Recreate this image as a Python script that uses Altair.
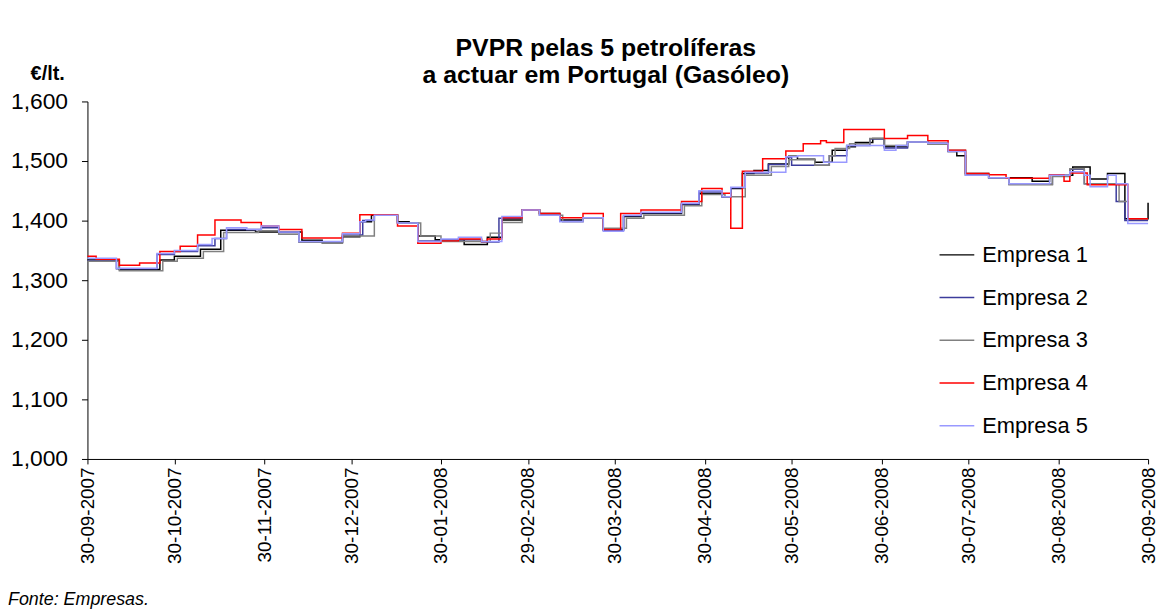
import altair as alt
import pandas as pd

START = "2007-09-30"

SERIES = ["Empresa 1", "Empresa 2", "Empresa 3", "Empresa 4", "Empresa 5"]
COLORS = ["#000000", "#3C3C9C", "#808080", "#FF0000", "#9999FF"]

# day offsets (from 30-09-2007) at which each company changed its price, and the new price (EUR/lt)
E1_DAYS = [0, 11, 25, 30, 39, 46, 58, 74, 81, 88, 94, 98, 107, 111, 114, 120, 130, 138, 143, 150, 156, 163, 171, 178, 185, 191, 205, 211, 219, 222, 226, 230, 235, 242, 245, 251, 257, 262, 265, 271, 275, 283, 290, 297, 300, 303, 311, 326, 332, 340, 346, 352, 358, 366]
E1_VALS = [1.334, 1.318, 1.334, 1.340, 1.352, 1.384, 1.381, 1.367, 1.363, 1.373, 1.398, 1.409, 1.398, 1.396, 1.374, 1.368, 1.360, 1.372, 1.401, 1.418, 1.412, 1.401, 1.405, 1.385, 1.407, 1.412, 1.427, 1.445, 1.440, 1.454, 1.479, 1.484, 1.495, 1.508, 1.503, 1.498, 1.518, 1.524, 1.531, 1.538, 1.524, 1.532, 1.529, 1.516, 1.509, 1.479, 1.472, 1.466, 1.476, 1.490, 1.470, 1.479, 1.403, 1.430]

E2_DAYS = [0, 10, 24, 30, 38, 44, 48, 60, 66, 73, 88, 95, 99, 107, 114, 122, 136, 142, 150, 156, 163, 171, 178, 185, 191, 205, 211, 219, 222, 227, 235, 241, 243, 256, 262, 270, 275, 283, 290, 297, 303, 311, 318, 333, 339, 344, 355, 358, 366]
E2_VALS = [1.333, 1.319, 1.343, 1.348, 1.358, 1.370, 1.385, 1.388, 1.380, 1.364, 1.376, 1.400, 1.409, 1.396, 1.366, 1.368, 1.364, 1.404, 1.418, 1.410, 1.399, 1.405, 1.384, 1.408, 1.413, 1.428, 1.448, 1.440, 1.455, 1.480, 1.494, 1.506, 1.493, 1.509, 1.526, 1.537, 1.522, 1.532, 1.530, 1.517, 1.477, 1.472, 1.461, 1.475, 1.486, 1.462, 1.432, 1.400, 1.400]

E3_DAYS = [0, 11, 26, 31, 40, 47, 59, 66, 73, 88, 99, 107, 115, 122, 139, 143, 150, 156, 164, 171, 178, 186, 192, 206, 212, 220, 227, 236, 242, 251, 256, 258, 263, 270, 275, 283, 290, 297, 303, 311, 318, 333, 339, 344, 356, 359, 366]
E3_VALS = [1.332, 1.316, 1.332, 1.337, 1.348, 1.380, 1.383, 1.377, 1.364, 1.374, 1.409, 1.396, 1.374, 1.365, 1.379, 1.397, 1.418, 1.409, 1.398, 1.404, 1.387, 1.404, 1.409, 1.425, 1.444, 1.440, 1.476, 1.491, 1.502, 1.493, 1.509, 1.521, 1.529, 1.538, 1.526, 1.532, 1.530, 1.518, 1.476, 1.472, 1.460, 1.474, 1.487, 1.462, 1.432, 1.403, 1.403]

E4_DAYS = [0, 3, 11, 18, 25, 32, 38, 44, 53, 60, 66, 74, 88, 94, 107, 114, 122, 128, 136, 138, 143, 150, 156, 163, 171, 178, 184, 191, 205, 212, 219, 222, 226, 233, 241, 247, 253, 255, 261, 275, 283, 290, 297, 303, 311, 317, 332, 337, 339, 345, 359, 366]
E4_VALS = [1.340, 1.335, 1.325, 1.329, 1.348, 1.357, 1.376, 1.401, 1.397, 1.391, 1.385, 1.371, 1.379, 1.410, 1.391, 1.362, 1.366, 1.369, 1.365, 1.369, 1.405, 1.418, 1.412, 1.405, 1.412, 1.385, 1.412, 1.418, 1.432, 1.454, 1.446, 1.387, 1.483, 1.504, 1.517, 1.529, 1.534, 1.531, 1.553, 1.538, 1.543, 1.534, 1.518, 1.479, 1.477, 1.471, 1.477, 1.466, 1.480, 1.460, 1.403, 1.403]

E5_DAYS = [0, 10, 24, 30, 38, 43, 48, 55, 60, 66, 73, 88, 94, 96, 99, 107, 114, 122, 128, 136, 143, 150, 156, 163, 171, 178, 185, 191, 205, 211, 219, 222, 227, 241, 245, 254, 262, 275, 279, 283, 290, 297, 303, 311, 318, 332, 339, 344, 346, 352, 355, 359, 366]
E5_VALS = [1.337, 1.320, 1.345, 1.350, 1.360, 1.370, 1.388, 1.385, 1.391, 1.381, 1.365, 1.378, 1.398, 1.401, 1.409, 1.396, 1.365, 1.369, 1.372, 1.365, 1.407, 1.418, 1.409, 1.398, 1.405, 1.382, 1.409, 1.414, 1.429, 1.450, 1.440, 1.456, 1.481, 1.507, 1.509, 1.498, 1.526, 1.518, 1.526, 1.532, 1.530, 1.516, 1.476, 1.472, 1.462, 1.476, 1.482, 1.476, 1.457, 1.476, 1.462, 1.395, 1.395]

Y_TICKS = [1.0, 1.1, 1.2, 1.3, 1.4, 1.5, 1.6]
X_TICKS = [(2007, 9, 30), (2007, 10, 30), (2007, 11, 30), (2007, 12, 30), (2008, 1, 30),
           (2008, 2, 29), (2008, 3, 30), (2008, 4, 30), (2008, 5, 30), (2008, 6, 30),
           (2008, 7, 30), (2008, 8, 30), (2008, 9, 30)]

TITLE1 = "PVPR pelas 5 petrolíferas"
TITLE2 = "a actuar em Portugal (Gasóleo)"
UNIT = "€/lt."
SOURCE = "Fonte: Empresas."

FONT = "Liberation Sans"

frames = []
for name, days, vals in zip(SERIES,
                            [E1_DAYS, E2_DAYS, E3_DAYS, E4_DAYS, E5_DAYS],
                            [E1_VALS, E2_VALS, E3_VALS, E4_VALS, E5_VALS]):
    d = pd.DataFrame({
        "date": pd.Timestamp(START) + pd.to_timedelta(days, unit="D"),
        "price": vals,
        "series": name,
    })
    frames.append(d)
df = pd.concat(frames, ignore_index=True)

W, H = 1068, 360

x_enc = alt.X(
    "date:T",
    scale=alt.Scale(domain=[alt.DateTime(year=2007, month=9, date=30),
                            alt.DateTime(year=2008, month=9, date=30)], nice=False),
    axis=alt.Axis(
        values=[alt.DateTime(year=y, month=m, date=dd) for (y, m, dd) in X_TICKS],
        format="%d-%m-%Y", labelAngle=270, labelFontSize=19, labelFont=FONT,
        labelColor="black", grid=False, tickSize=5, tickColor="black",
        domainColor="black", labelPadding=3, title=None, labelOverlap=False,
    ),
)
y_enc = alt.Y(
    "price:Q",
    scale=alt.Scale(domain=[1.0, 1.6], nice=False, zero=False),
    axis=alt.Axis(
        values=Y_TICKS, labelExpr="replace(format(datum.value, '.3f'), '.', ',')",
        labelFontSize=23, labelFont=FONT, labelColor="black", grid=False,
        tickSize=6, tickColor="black", domainColor="black", labelPadding=14, title=None,
    ),
)

lines = alt.Chart(df).mark_line(interpolate="step-after", strokeWidth=1.5).encode(
    x=x_enc,
    y=y_enc,
    color=alt.Color(
        "series:N",
        scale=alt.Scale(domain=SERIES, range=COLORS),
        legend=alt.Legend(
            orient="none", legendX=857, legendY=136, title=None,
            symbolType="stroke", symbolSize=1225, symbolStrokeWidth=1.5,
            labelFontSize=22, labelFont=FONT, labelColor="black",
            rowPadding=13, labelOffset=7, padding=0,
        ),
    ),
    order=alt.Order("series:N"),
)

def text_layer(txt, x, y, size, weight="normal", style="normal", align="center"):
    return alt.Chart(pd.DataFrame({"t": [txt]})).mark_text(
        font=FONT, fontSize=size, fontWeight=weight, fontStyle=style,
        align=align, baseline="middle", color="black",
    ).encode(text="t:N", x=alt.value(x), y=alt.value(y))

chart = alt.layer(
    lines,
    text_layer(TITLE1, 522, -54, 25, weight="bold"),
    text_layer(TITLE2, 522, -27, 25, weight="bold"),
    text_layer(UNIT, -40, -28, 20, weight="bold"),
    text_layer(SOURCE, -80, 502, 18, style="italic", align="left"),
).properties(
    width=W, height=H,
    autosize=alt.AutoSizeParams(type="none"),
    padding={"left": 80, "top": 92, "right": 10, "bottom": 150},
).configure_view(strokeWidth=0)

chart.save("out.html", embed_options={"renderer": "svg", "actions": False})
